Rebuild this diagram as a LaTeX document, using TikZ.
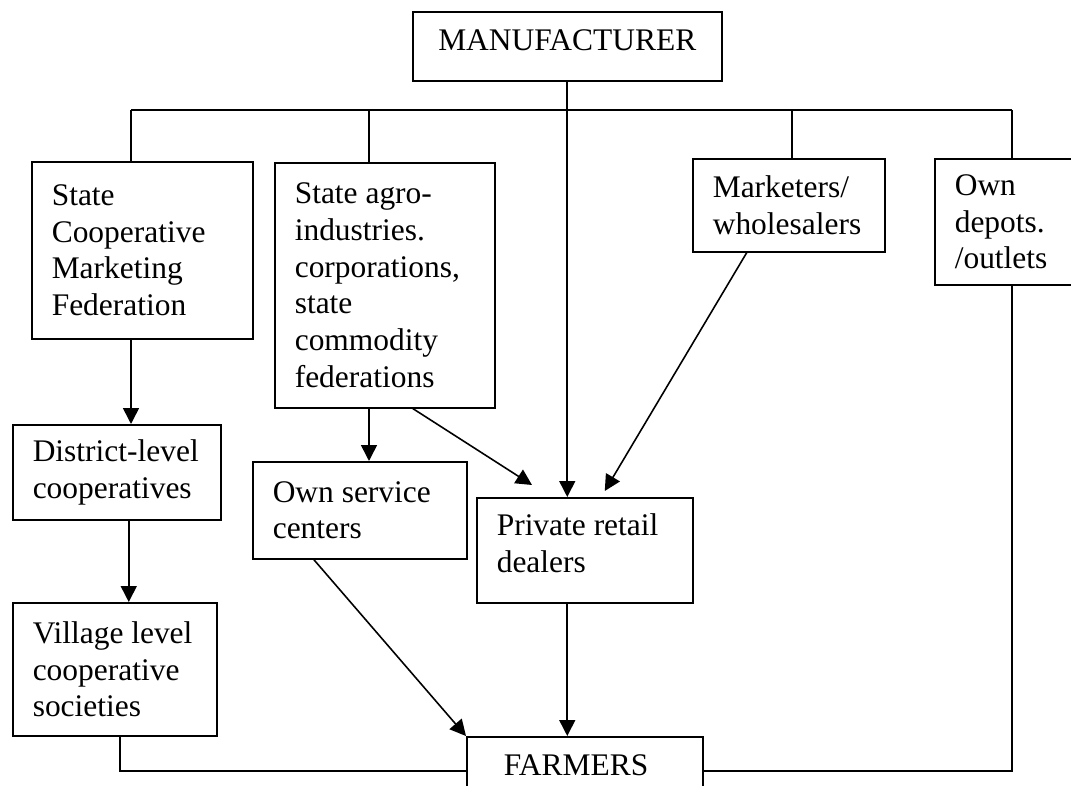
\documentclass[tikz,border=0pt]{standalone}
\usepackage{fontspec}
\setmainfont{Liberation Serif}
\usetikzlibrary{arrows.meta}

\begin{document}
\begin{tikzpicture}[x=0.02cm, y=-0.02cm, line width=0.9pt,
	box/.style={draw, rectangle, anchor=north west, align=flush left,
		inner xsep=0.4cm, inner ysep=0pt,
		font=\fontsize{17.9pt}{21pt}\selectfont},
	arr/.style={-{Triangle[length=0.32cm, width=0.32cm]}}]
	\useasboundingbox (0,0) rectangle (1071,786);

	\node[box, align=center, text width=5.38cm, minimum height=1.38cm, text depth=0.24cm] (manu) at (412,11) {MANUFACTURER};

	\node[box, text width=3.62cm, minimum height=3.54cm] (coop) at (31,161) {State\\Cooperative\\Marketing\\Federation};
	\node[box, text width=3.60cm, minimum height=4.90cm] (agro) at (274,162) {State agro-\\industries.\\corporations,\\state\\commodity\\federations};
	\node[box, text width=3.04cm, minimum height=1.86cm] (mkt) at (692,158) {Marketers/\\wholesalers};
	\node[box, text width=2.00cm, minimum height=2.52cm] (depot) at (934,158) {Own\\depots.\\/outlets};

	\node[box, text width=3.36cm, minimum height=1.90cm] (dist) at (12,424) {District-level\\cooperatives};
	\node[box, text width=3.28cm, minimum height=2.66cm] (vill) at (12,602) {Village level\\cooperative\\societies};
	\node[box, text width=3.48cm, minimum height=1.94cm] (serv) at (252,461) {Own service\\centers};
	\node[box, text width=3.52cm, minimum height=2.10cm, text depth=1.02cm] (priv) at (476,497) {Private retail\\dealers};

	\node[box, inner xsep=0.74cm, text width=3.24cm, minimum height=1.38cm, text depth=0.24cm] (farm) at (466,736) {FARMERS};

	% bus under the manufacturer
	\coordinate (b1) at (131,110);
	\coordinate (b2) at (369,110);
	\coordinate (b3) at (792,110);
	\coordinate (b4) at (1012,110);
	\draw (b1) -- (b4);
	\foreach \b/\n in {b1/coop, b2/agro, b3/mkt, b4/depot}{
		\draw (\b) -- (\b |- \n.north);
	}

	\draw[arr] (manu.south) -- (manu.south |- priv.north);
	\draw[arr] (manu.south |- priv.south) -- (manu.south |- farm.north);

	\draw[arr] (b1 |- coop.south) -- (b1 |- dist.north);
	\draw[arr] ([xshift=0.24cm]dist.south) -- ([xshift=0.24cm]dist.south |- vill.north);
	\draw[arr] (b2 |- agro.south) -- (b2 |- serv.north);
	\draw[arr] ([xshift=0.56cm]agro.south) -- ([shift={(56,-12)}]priv.north west);
	\draw[arr] ([xshift=-0.84cm]mkt.south) -- ([shift={(20,-6)}]priv.north);
	\draw[arr] ([xshift=-0.92cm]serv.south) -- (farm.north west);

	\draw ([xshift=0.1cm]vill.south) |- (farm.west);
	\draw (b4 |- depot.south) |- (farm.east);
\end{tikzpicture}
\end{document}
